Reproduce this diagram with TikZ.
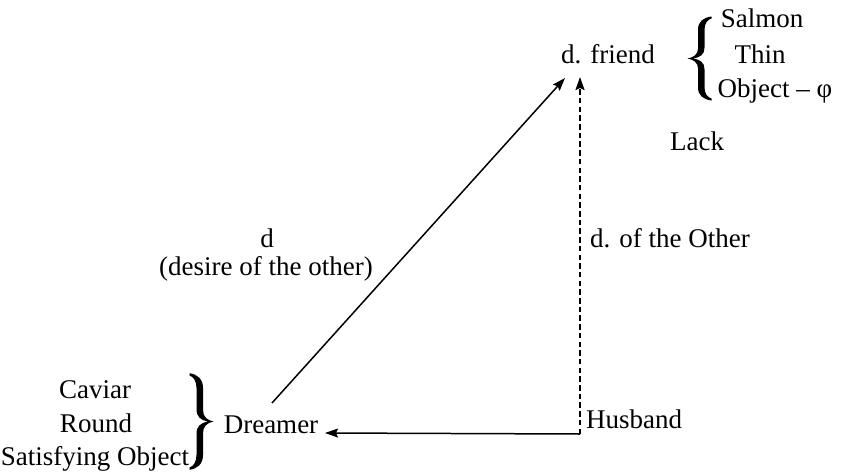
\documentclass[tikz,border=0pt]{standalone}
\usepackage{fontspec}
\setmainfont{Liberation Serif}
\usetikzlibrary{arrows.meta}
\tikzset{
  lbl/.style={inner sep=0pt, anchor=base, font=\fontsize{27}{32}\selectfont},
  lblw/.style={lbl, anchor=base west},
  conn/.style={line width=1.5pt, -{Stealth[length=13pt,width=9pt,inset=2pt]}},
  dashconn/.style={conn, line width=1.8pt, dash pattern=on 5.5pt off 3.2pt},
  bracepic/.pic={
    \fill (12,42) .. controls (4,41) and (-1.5,37) .. (-1.5,29)
      -- (-1.5,10) .. controls (-1.5,4) and (-6,1) .. (-12,0)
      .. controls (-6,-1) and (-1.5,-4) .. (-1.5,-10)
      -- (-1.5,-29) .. controls (-1.5,-37) and (4,-41) .. (12,-42)
      -- (12,-40) .. controls (8,-39) and (5,-35) .. (5,-29)
      -- (5,-11) .. controls (5,-4) and (1,-1) .. (-7,0)
      .. controls (1,1) and (5,4) .. (5,11)
      -- (5,29) .. controls (5,35) and (8,39) .. (12,40) -- cycle;
  }
}
\begin{document}
\begin{tikzpicture}[x=1pt,y=-1pt]
\useasboundingbox (0,0) rectangle (843,474);
% top right
\node[lbl] (friend) at (608,63) {d. friend};
\pic at (699.5,58.5) {bracepic};
\node[lbl] (salmon) at (762,27) {Salmon};
\node[lbl] (thin) at (760,63) {Thin};
\node[lbl] (object) at (775,97) {Object – φ};
\node[lbl] (lack) at (697,150) {Lack};
% middle labels
\node[lbl] (d) at (267,247) {d};
\node[lbl] (desire) at (266,275) {(desire of the other)};
\node[lblw] (other) at (590,247) {d. of the Other};
% bottom left
\node[lbl] (caviar) at (95,398) {Caviar};
\node[lbl] (round) at (96,432) {Round};
\node[lbl] (satisf) at (95,465) {Satisfying Object};
\begin{scope}[shift={(201.5,421.5)}, xscale=-1, yscale=1.15, transform shape]
  \pic {bracepic};
\end{scope}
\node[lbl] (dreamer) at (271,433) {Dreamer};
\node[lblw] (husband) at (586,428) {Husband};
% connector end points
\coordinate (dreamTop) at (272,403);
\coordinate (friendIn) at (565,78);
\coordinate (friendIn2) at (580,77);
\coordinate (husCorner) at (580,434);
\coordinate (dreamIn) at (325,433);
\draw[conn] (dreamTop) -- (friendIn);
\draw[dashconn] (husCorner) -- (friendIn2);
\draw[conn] (husCorner) -- (dreamIn);
\end{tikzpicture}
\end{document}
